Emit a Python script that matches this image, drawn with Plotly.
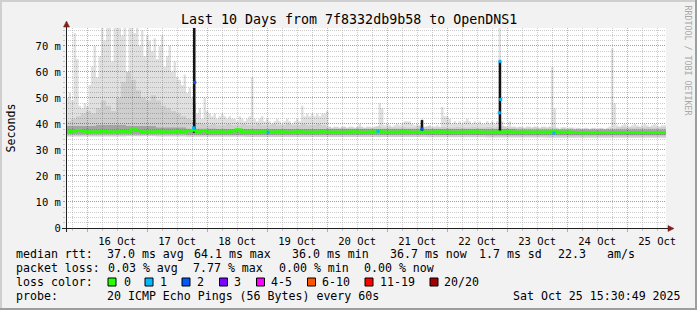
import plotly.graph_objects as go
from datetime import datetime, timedelta

# ---------------- data ----------------
START = datetime(2025, 10, 15, 15, 30, 49)
END = datetime(2025, 10, 25, 15, 30, 49)

# hourly maximum ping (ms) -> top of the light smoke (240 hours)
smoke_max = [
    50, 52, 49, 75, 65, 47, 46, 48, 47, 55,
    62, 70, 58, 66, 77, 72, 77, 77, 64, 77,
    77, 77, 74, 77, 60, 77, 77, 75, 77, 70,
    76, 66, 74, 72, 68, 73, 65, 70, 74, 62,
    66, 70, 60, 64, 58, 57, 55, 59, 52, 54,
    50, 48, 44, 46, 42, 50, 45, 44, 43, 44,
    42, 43, 44, 43, 42, 43, 42, 42, 41, 43,
    42, 41, 42, 43, 58, 42, 41, 42, 43, 41,
    42, 41, 40, 41, 42, 41, 40, 41, 42, 41,
    40, 41, 42, 41, 47, 43, 44, 43, 44, 43,
    44, 43, 44, 44, 45, 39, 38.5, 39, 39, 38.5,
    39, 39, 38.5, 39, 39, 38.5, 39, 40, 39, 38.5,
    39, 39, 38.5, 39, 39, 48, 46, 39.5, 40, 39.5,
    39, 39.5, 40, 39.5, 40, 41, 41, 41, 40, 39.5,
    40, 39.5, 42, 39, 39, 39.5, 39, 39, 39.5, 39,
    46.5, 43, 43, 42, 40, 41, 40, 41, 40, 41,
    42, 41, 40, 41, 40, 41, 40, 40, 41, 40,
    41, 40, 41, 77, 41, 39, 39, 41, 39, 39,
    38.5, 39, 39, 38.5, 39, 39, 38.5, 39, 39, 38.5,
    39, 39, 38.5, 39, 62, 46, 38.5, 38, 38.5, 38.5,
    38, 38.5, 38.5, 38, 38.5, 38.5, 38, 38.5, 38.5, 38,
    38.5, 38.5, 38, 38.5, 38.5, 38, 38.5, 39, 69, 48,
    39.5, 39, 39.5, 40, 39.5, 39, 39.5, 40, 39.5, 39,
    39.5, 40, 39.5, 39, 39.5, 40, 39.5, 39, 39.5, 39.5,
]

# 2-hourly upper edge of the medium smoke (120 bins)
mid_hi = [
    41, 42, 43, 44, 45, 44, 46, 49, 47, 45,
    50, 56, 60, 57, 53, 50, 49, 51, 49, 47,
    46, 45, 44, 43, 42, 41.5, 40.5, 40, 39.5, 40,
    39.5, 39.5, 40, 39.5, 39.5, 40, 39.5, 39.5, 40, 39.5,
    39.5, 40, 39.5, 39.5, 40, 39.5, 39.5, 40, 39.5, 39.5,
    40, 39.5, 38.8, 38.6, 38.6, 38.8, 38.6, 38.6, 38.8, 38.6,
    38.6, 38.8, 39.2, 38.6, 38.8, 38.6, 38.6, 38.8, 38.6, 38.6,
    39.2, 38.8, 39.2, 38.6, 38.6, 38.8, 38.6, 38.6, 38.8, 38.6,
    38.6, 38.8, 38.6, 38.6, 38.8, 38.6, 38.8, 39.2, 38.6, 38.6,
    38.8, 38.6, 38.6, 38.8, 38.6, 38.6, 38.8, 38.6, 38.6, 38.8,
    38.6, 38.6, 38.3, 38.3, 38.3, 38.3, 38.3, 38.3, 38.3, 38.3,
    38.6, 38.8, 38.6, 38.6, 38.8, 38.6, 38.8, 38.6, 38.6, 38.8,
]

# 2-hourly median rtt (ms)
median_rtt = [
    37.0, 37.2, 37.6, 37.2, 37.0, 37.1, 37.0, 37.2, 37.0, 37.1,
    37.0, 37.2, 37.0, 37.9, 37.4, 37.0, 37.1, 37.0, 37.2, 37.0,
    37.1, 37.0, 37.2, 37.0, 37.3, 37.5, 37.0, 37.6, 37.0, 37.0,
    37.1, 37.0, 37.0, 37.2, 37.9, 37.0, 37.1, 37.0, 37.0, 37.1,
    37.0, 37.0, 37.1, 37.0, 36.9, 37.0, 37.1, 37.0, 36.9, 37.0,
    37.0, 37.1, 36.9, 37.0, 37.0, 36.9, 37.0, 37.1, 37.0, 36.9,
    37.0, 37.0, 37.2, 37.0, 36.9, 37.0, 37.0, 37.1, 37.0, 36.9,
    37.0, 37.0, 36.9, 37.0, 37.1, 37.0, 37.0, 36.9, 37.0, 37.0,
    37.0, 37.1, 37.0, 37.0, 36.9, 37.0, 37.0, 37.0, 37.1, 37.0,
    36.9, 37.0, 37.0, 37.0, 36.9, 37.0, 37.0, 37.1, 37.0, 36.9,
    37.0, 36.8, 36.6, 36.5, 36.6, 36.5, 36.7, 36.6, 36.6, 36.7,
    36.8, 36.7, 36.6, 36.7, 36.8, 36.7, 36.6, 36.7, 36.7, 36.7,
]

# 12-hourly lower smoke edge and dense (dark) smoke band
smoke_min = [35.2, 35.2, 35.3, 35.2, 35.1, 35.1, 35.0, 35.0, 35.0, 35.0,
             35.0, 35.0, 34.9, 34.9, 34.8, 34.8, 34.7, 34.7, 34.7, 34.7]
dark_lo = [36.0, 36.0, 36.0, 36.0, 35.9, 35.9, 35.9, 35.9, 35.9, 35.9,
           35.9, 35.9, 35.8, 35.8, 35.7, 35.7, 35.7, 35.7, 35.7, 35.7]
dark_hi = [39.2, 39.6, 39.2, 38.6, 38.2, 38.1, 38.1, 38.1, 38.1, 38.1,
           38.1, 38.1, 38.1, 38.1, 38.1, 37.9, 37.9, 37.9, 37.9, 37.9]

# short bursts where all pings were slow (dense dark columns)
burst_time = ["2025-10-17 18:49:00", "2025-10-21 13:54:00", "2025-10-22 21:06:00"]
burst_top = [77.0, 41.5, 64.1]
burst_base = [36.6, 36.8, 36.6]

# median samples with packet loss
loss_time = ["2025-10-17 18:31:00", "2025-10-17 19:01:00", "2025-10-19 00:18:00",
             "2025-10-20 20:18:00", "2025-10-21 13:54:00", "2025-10-22 20:48:00",
             "2025-10-22 21:06:00", "2025-10-22 21:24:00", "2025-10-23 18:42:00"]
loss_rtt = [38.5, 56.0, 36.8, 37.2, 38.1, 44.3, 64.1, 49.4, 36.5]
loss_pings = [1, 2, 1, 1, 2, 1, 1, 1, 1]

loss_labels = ["0", "1", "2", "3", "4-5", "6-10", "11-19", "20/20"]
loss_colors = ["#26ff00", "#00b8ff", "#0059ff", "#7e00ff",
               "#ff00ff", "#ff5500", "#ff0000", "#a10000"]

y_ticks = [0, 10, 20, 30, 40, 50, 60, 70]
y_labels = ["0", "10 m", "20 m", "30 m", "40 m", "50 m", "60 m", "70 m"]

title = "Last 10 Days from 7f8332db9b58 to OpenDNS1"
rtt_stats = ["37.0 ms avg", "64.1 ms max", "36.0 ms min", "36.7 ms now", "1.7 ms sd", "22.3", "am/s"]
loss_stats = ["0.03 % avg", "7.77 % max", "0.00 % min", "0.00 % now"]
probe_text = "20 ICMP Echo Pings (56 Bytes) every 60s"
stamp_text = "Sat Oct 25 15:30:49 2025"

# ---------------- geometry helpers ----------------
W, H = 697, 310
PL, PR, PT, PB = 66, 666, 28, 228
MONO = "DejaVu Sans Mono"


def px(x):
    return (x - PL) / (PR - PL)


def py(y):
    return (PB - y) / (PB - PT)


def loss_level(n):
    if n <= 3:
        return n
    if n <= 5:
        return 4
    if n <= 10:
        return 5
    if n <= 19:
        return 6
    return 7


fig = go.Figure()


def band(times, lo, hi, color):
    fig.add_trace(go.Scatter(x=times, y=lo + [lo[-1]], mode="lines",
                             line=dict(width=0, shape="hv"), hoverinfo="skip",
                             showlegend=False))
    fig.add_trace(go.Scatter(x=times, y=hi + [hi[-1]], mode="lines",
                             line=dict(width=0, shape="hv"), fill="tonexty",
                             fillcolor=color, hoverinfo="skip", showlegend=False))


t1 = [START + timedelta(hours=k) for k in range(len(smoke_max) + 1)]
t2 = [START + timedelta(hours=2 * j) for j in range(len(median_rtt) + 1)]
t12 = [START + timedelta(hours=12 * j) for j in range(len(smoke_min) + 1)]

min_hourly = [smoke_min[k // 12] for k in range(len(smoke_max))]
min_2h = [smoke_min[j // 6] for j in range(len(mid_hi))]

band(t1, min_hourly, smoke_max, "rgba(0,0,0,0.12)")
band(t2, min_2h, mid_hi, "rgba(0,0,0,0.08)")
band(t12, dark_lo, dark_hi, "rgba(0,0,0,0.20)")

fig.add_trace(go.Bar(x=burst_time, y=[t - b for t, b in zip(burst_top, burst_base)],
                     base=burst_base, width=3600000, marker=dict(color="#141414", line=dict(width=0)),
                     hoverinfo="skip", showlegend=False))

fig.add_trace(go.Scatter(x=t2, y=median_rtt + [median_rtt[-1]], mode="lines",
                         line=dict(color=loss_colors[0], width=2.5, shape="hv"),
                         hoverinfo="skip", showlegend=False))

fig.add_trace(go.Scatter(x=loss_time, y=loss_rtt, mode="markers",
                         marker=dict(symbol="square", size=3,
                                     color=[loss_colors[loss_level(n)] for n in loss_pings],
                                     line=dict(width=0)),
                         hoverinfo="skip", showlegend=False))

MGRID = "rgba(222,79,79,0.55)"
GRID = "rgba(143,143,143,0.45)"

fig.update_layout(
    width=W, height=H, autosize=False,
    margin=dict(l=PL, r=W - PR, t=PT, b=H - PB, pad=0),
    paper_bgcolor="#f2f2f2", plot_bgcolor="#ffffff",
    barmode="overlay", showlegend=False,
    font=dict(family=MONO, color="#000000"),
    xaxis=dict(
        type="date", range=[START, END], tickformat="%d %b",
        ticklabelmode="period", dtick=86400000, tick0="2025-10-16 00:00:00",
        showgrid=True, gridcolor=MGRID, griddash="1px,1px", gridwidth=1,
        ticks="outside", ticklen=3, tickcolor=MGRID,
        tickfont=dict(family=MONO, size=10.5, color="#000000"),
        minor=dict(dtick=6 * 3600 * 1000, tick0="2025-10-16 00:00:00", showgrid=True,
                   gridcolor=GRID, griddash="1px,1px", ticks="outside", ticklen=2,
                   tickcolor=GRID),
        showline=False, zeroline=False, fixedrange=True,
    ),
    yaxis=dict(
        range=[0, 76.9], tickmode="array", tickvals=y_ticks, ticktext=y_labels,
        showgrid=True, gridcolor=MGRID, griddash="1px,1px", gridwidth=1,
        ticks="outside", ticklen=2, tickcolor=MGRID,
        tickfont=dict(family=MONO, size=10.5, color="#000000"),
        minor=dict(dtick=2, tick0=0, showgrid=True, gridcolor=GRID, griddash="1px,1px",
                   ticks="outside", ticklen=2, tickcolor=GRID),
        showline=False, zeroline=False, fixedrange=True,
    ),
)

shapes = []
# frame shading
shapes.append(dict(type="rect", xref="paper", yref="paper", x0=px(0), x1=px(W), y0=py(0), y1=py(2),
                   fillcolor="#cfcfcf", line=dict(width=0), layer="below"))
shapes.append(dict(type="rect", xref="paper", yref="paper", x0=px(0), x1=px(2), y0=py(0), y1=py(H),
                   fillcolor="#cfcfcf", line=dict(width=0), layer="below"))
shapes.append(dict(type="rect", xref="paper", yref="paper", x0=px(0), x1=px(W), y0=py(H - 2), y1=py(H),
                   fillcolor="#9e9e9e", line=dict(width=0), layer="below"))
shapes.append(dict(type="rect", xref="paper", yref="paper", x0=px(W - 2), x1=px(W), y0=py(0), y1=py(H),
                   fillcolor="#9e9e9e", line=dict(width=0), layer="below"))
# axes
shapes.append(dict(type="line", xref="paper", yref="paper", x0=px(62), x1=px(670), y0=py(228.5), y1=py(228.5),
                   line=dict(color="#1f1f1f", width=1)))
shapes.append(dict(type="line", xref="paper", yref="paper", x0=px(66.5), x1=px(66.5), y0=py(232), y1=py(25),
                   line=dict(color="#1f1f1f", width=1)))
# arrows
shapes.append(dict(type="path", xref="paper", yref="paper",
                   path=f"M {px(668)} {py(225.5)} L {px(674)} {py(228.5)} L {px(668)} {py(231.5)} Z",
                   fillcolor="#801f1f", line=dict(color="#801f1f", width=0.5)))
shapes.append(dict(type="path", xref="paper", yref="paper",
                   path=f"M {px(63.5)} {py(27)} L {px(66.5)} {py(21)} L {px(69.5)} {py(27)} Z",
                   fillcolor="#801f1f", line=dict(color="#801f1f", width=0.5)))

annotations = []


def text(x, y, s, size=11.6, anchor="left", color="#000000", angle=0):
    annotations.append(dict(x=px(x), y=py(y), xref="paper", yref="paper", text=s,
                            showarrow=False, xanchor=anchor, yanchor="middle",
                            textangle=angle, borderpad=0, borderwidth=0,
                            font=dict(family=MONO, size=size, color=color)))


text(348.5, 19, title, size=13.3, anchor="center")
text(10.5, 128, "Seconds", size=11.6, anchor="center", angle=-90)
text(687.5, 60, "RRDTOOL / TOBI OETIKER", size=8.3, anchor="center", color="#a8a8a8", angle=90)

ROW = [254, 268, 282, 296]
text(16, ROW[0], "median rtt:")
for xx, s in zip([107, 194, 292, 390, 479, 558, 607], rtt_stats):
    text(xx, ROW[0], s)
text(16, ROW[1], "packet loss:")
for xx, s in zip([107.5, 192.5, 279, 364], loss_stats):
    text(xx, ROW[1], s)
text(16, ROW[2], "loss color:")
sq_x = [108, 145, 182, 219.5, 256.5, 307.5, 365, 430]
lab_x = [123.5, 160, 197, 234, 271, 322, 380, 444]
for sx, lx, lab, col in zip(sq_x, lab_x, loss_labels, loss_colors):
    shapes.append(dict(type="rect", xref="paper", yref="paper", x0=px(sx), x1=px(sx + 8),
                       y0=py(ROW[2] + 4), y1=py(ROW[2] - 4), fillcolor=col,
                       line=dict(color="#000000", width=1)))
    text(lx, ROW[2], lab)
text(16, ROW[3], "probe:")
text(107, ROW[3], probe_text)
text(680.5, ROW[3], stamp_text, anchor="right")

fig.update_layout(shapes=shapes, annotations=annotations)
fig.write_html("out.html")
